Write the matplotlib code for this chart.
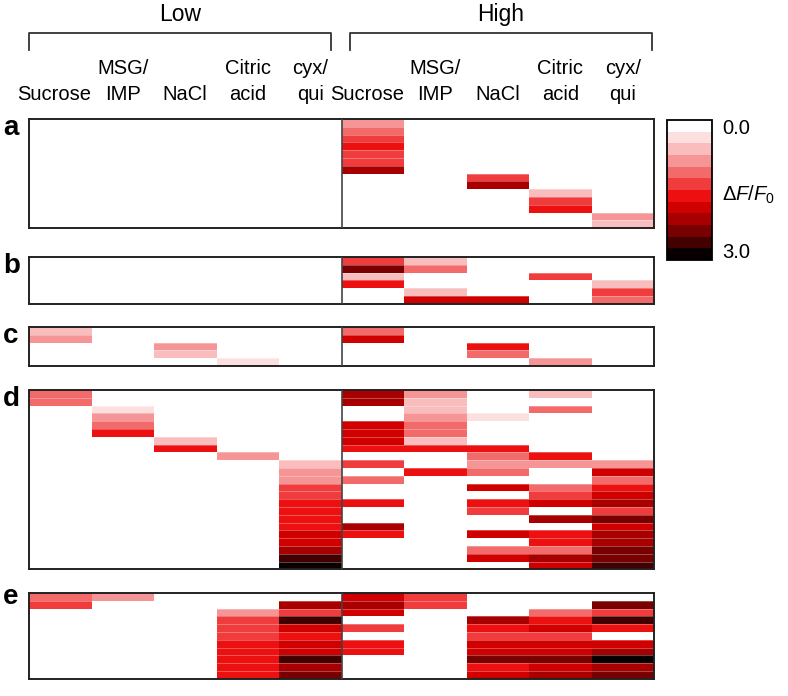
import numpy as np
import matplotlib
matplotlib.use("Agg")
import matplotlib.pyplot as plt
from matplotlib.colors import ListedColormap, BoundaryNorm
from matplotlib.cm import ScalarMappable
from matplotlib.ticker import NullLocator

plt.rcParams['font.family'] = ['Liberation Sans', 'DejaVu Sans']
plt.rcParams['mathtext.fontset'] = 'custom'
plt.rcParams['mathtext.rm'] = 'Liberation Sans'
plt.rcParams['mathtext.it'] = 'Liberation Sans:italic'

# column order: Low (5 tastants) then High (5 tastants)
tastes = ["Sucrose", "MSG/\nIMP", "NaCl", "Citric\nacid", "cyx/\nqui"]
groups = ["Low", "High"]
panel_names = ["a", "b", "c", "d", "e"]

# dF/F0 per cell (one row per cell, 10 columns)
panel_a = [
    [0, 0, 0, 0, 0, 0.9, 0, 0, 0, 0],
    [0, 0, 0, 0, 0, 1.1, 0, 0, 0, 0],
    [0, 0, 0, 0, 0, 1.4, 0, 0, 0, 0],
    [0, 0, 0, 0, 0, 1.6, 0, 0, 0, 0],
    [0, 0, 0, 0, 0, 1.4, 0, 0, 0, 0],
    [0, 0, 0, 0, 0, 1.3, 0, 0, 0, 0],
    [0, 0, 0, 0, 0, 2.2, 0, 0, 0, 0],
    [0, 0, 0, 0, 0, 0, 0, 1.4, 0, 0],
    [0, 0, 0, 0, 0, 0, 0, 2.2, 0, 0],
    [0, 0, 0, 0, 0, 0, 0, 0, 0.6, 0],
    [0, 0, 0, 0, 0, 0, 0, 0, 1.3, 0],
    [0, 0, 0, 0, 0, 0, 0, 0, 1.6, 0],
    [0, 0, 0, 0, 0, 0, 0, 0, 0, 0.9],
    [0, 0, 0, 0, 0, 0, 0, 0, 0, 0.7],
]
panel_b = [
    [0, 0, 0, 0, 0, 1.3, 0.6, 0, 0, 0],
    [0, 0, 0, 0, 0, 2.4, 1.1, 0, 0, 0],
    [0, 0, 0, 0, 0, 0.6, 0, 0, 1.3, 0],
    [0, 0, 0, 0, 0, 1.7, 0, 0, 0, 0.6],
    [0, 0, 0, 0, 0, 0, 0.6, 0, 0, 1.3],
    [0, 0, 0, 0, 0, 0, 1.8, 1.8, 0, 1.1],
]
panel_c = [
    [0.6, 0, 0, 0, 0, 1.1, 0, 0, 0, 0],
    [0.9, 0, 0, 0, 0, 1.9, 0, 0, 0, 0],
    [0, 0, 0.9, 0, 0, 0, 0, 1.6, 0, 0],
    [0, 0, 0.6, 0, 0, 0, 0, 1.1, 0, 0],
    [0, 0, 0, 0.4, 0, 0, 0, 0, 0.9, 0],
]
panel_d = [
    [1.0, 0, 0, 0, 0, 2.1, 0.9, 0, 0.6, 0],
    [1.2, 0, 0, 0, 0, 2.1, 0.7, 0, 0, 0],
    [0, 0.4, 0, 0, 0, 0, 0.7, 0, 1.2, 0],
    [0, 0.9, 0, 0, 0, 0, 0.8, 0.4, 0, 0],
    [0, 1.2, 0, 0, 0, 1.9, 1.2, 0, 0, 0],
    [0, 1.6, 0, 0, 0, 1.9, 1.2, 0, 0, 0],
    [0, 0, 0.7, 0, 0, 1.9, 0.7, 0, 0, 0],
    [0, 0, 1.6, 0, 0, 1.6, 1.6, 1.6, 0, 0],
    [0, 0, 0, 0.9, 0, 0, 0, 1.2, 1.6, 0],
    [0, 0, 0, 0, 0.7, 1.4, 0, 0.9, 0.9, 0.8],
    [0, 0, 0, 0, 0.9, 0, 1.7, 1.1, 0, 1.9],
    [0, 0, 0, 0, 0.95, 1.1, 0, 0, 0, 1.1],
    [0, 0, 0, 0, 1.3, 0, 0, 1.8, 1.0, 1.6],
    [0, 0, 0, 0, 1.4, 0, 0, 0, 1.3, 1.8],
    [0, 0, 0, 0, 1.6, 1.6, 0, 1.6, 1.9, 2.0],
    [0, 0, 0, 0, 1.6, 0, 0, 1.4, 0, 1.4],
    [0, 0, 0, 0, 1.6, 0, 0, 0, 2.2, 2.3],
    [0, 0, 0, 0, 1.7, 2.1, 0, 0, 0, 1.9],
    [0, 0, 0, 0, 1.8, 1.7, 0, 1.9, 1.7, 2.1],
    [0, 0, 0, 0, 1.9, 0, 0, 0, 1.6, 2.1],
    [0, 0, 0, 0, 2.1, 0, 0, 1.0, 1.1, 2.3],
    [0, 0, 0, 0, 2.5, 0, 0, 1.9, 2.1, 2.4],
    [0, 0, 0, 0, 2.9, 0, 0, 0, 1.8, 2.6],
]
panel_e = [
    [1.2, 0.9, 0, 0, 0, 1.9, 1.4, 0, 0, 0],
    [1.4, 0, 0, 0, 2.1, 2.1, 1.4, 0, 0, 2.3],
    [0, 0, 0, 0.9, 1.3, 1.8, 0, 0, 1.2, 1.4],
    [0, 0, 0, 1.3, 2.5, 0, 0, 2.1, 1.6, 2.6],
    [0, 0, 0, 1.4, 1.8, 1.3, 0, 1.6, 1.8, 1.7],
    [0, 0, 0, 1.4, 1.7, 0, 0, 1.4, 1.4, 0],
    [0, 0, 0, 1.6, 1.9, 1.5, 0, 1.9, 1.9, 1.9],
    [0, 0, 0, 1.6, 1.8, 1.5, 0, 1.9, 1.9, 2.1],
    [0, 0, 0, 1.7, 2.6, 0, 0, 2.4, 2.4, 2.9],
    [0, 0, 0, 1.6, 2.1, 0, 0, 1.7, 1.9, 2.1],
    [0, 0, 0, 1.7, 2.3, 0, 0, 1.8, 2.1, 2.3],
]
panels = [panel_a, panel_b, panel_c, panel_d, panel_e]

# 12-step white -> red -> black scale, 0 to 3
level_colors = ["#FFFFFF", "#FCE0E0", "#F9BDBD", "#F69595", "#F36A6A", "#F03C3C",
                "#EC1010", "#D00000", "#A80000", "#780000", "#420000", "#080000"]
cmap = ListedColormap(level_colors)
norm = BoundaryNorm(np.linspace(0, 3, 13), cmap.N)

W, H = 788, 696


def rect(x0, y0, x1, y1):
    return [x0 / W, 1 - y1 / H, (x1 - x0) / W, (y1 - y0) / H]


fig = plt.figure(figsize=(W / 100, H / 100), dpi=100)

# overlay in pixel coords for brackets and labels
ov = fig.add_axes([0, 0, 1, 1])
ov.set_xlim(0, W)
ov.set_ylim(H, 0)
ov.axis('off')

left, right = 29, 654
col_w = (right - left) / 10
row_h = 7.8
tops = [119, 257, 327, 390, 593]

for name, data, top in zip(panel_names, panels, tops):
    data = np.array(data, dtype=float)
    n = data.shape[0]
    ax = fig.add_axes(rect(left, top, right, top + n * row_h))
    ax.pcolormesh(np.arange(11), np.arange(n + 1), data, cmap=cmap, norm=norm)
    ax.hlines(np.arange(1, n), 0, 10, colors='white', lw=0.6, alpha=0.35)
    ax.axvline(5, color='#444444', lw=1.2, zorder=3)
    ax.set_xlim(0, 10)
    ax.set_ylim(n, 0)
    ax.set_xticks([])
    ax.set_yticks([])
    for s in ax.spines.values():
        s.set_linewidth(1.4)
        s.set_color('#222222')
    off = 11 if name == "e" else 16
    ov.text(3, top + off, name, fontsize=20, fontweight='bold', va='baseline', ha='left')

# group brackets
for g, (x0, x1) in enumerate([(29, 331), (350, 652)]):
    ov.plot([x0, x0, x1, x1], [50, 33, 33, 50], color='#333333', lw=1.3)
    ov.text((x0 + x1) / 2, 21, groups[g], fontsize=16.5, ha='center', va='baseline')
    for i, t in enumerate(tastes):
        x = left + col_w * (5 * g + i + 0.5) + (-6 if i == 0 else 0)
        ov.text(x, 100, t, fontsize=14.5, ha='center', va='baseline',
                linespacing=1.45, multialignment='center')

# colour bar
cax = fig.add_axes(rect(667, 120, 712, 260))
cb = fig.colorbar(ScalarMappable(norm=norm, cmap=cmap), cax=cax)
cax.invert_yaxis()
cb.set_ticks([])
cax.yaxis.set_minor_locator(NullLocator())
cax.tick_params(which='both', length=0)
cb.outline.set_linewidth(1.3)
ov.text(722, 128, "0.0", fontsize=14.5, va='center', ha='left')
ov.text(722, 195, r"$\Delta F/F_0$", fontsize=14.5, va='center', ha='left')
ov.text(722, 252, "3.0", fontsize=14.5, va='center', ha='left')

fig.savefig("out.png", dpi=100)
